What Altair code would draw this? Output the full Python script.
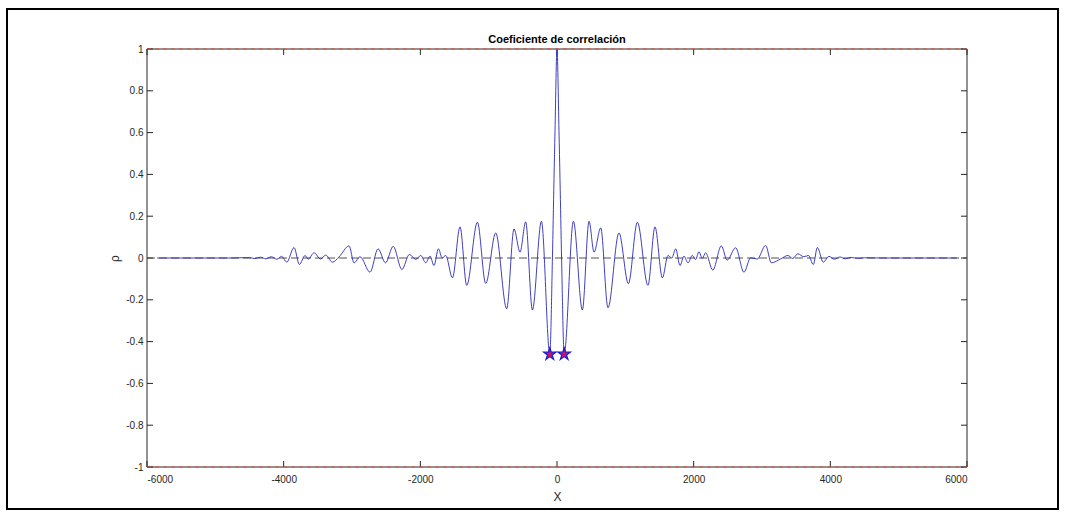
import altair as alt
import pandas as pd

# ---- values ----
curve_x = [-5850, -4800, -4500, -4420, -4340, -4260, -4180, -4100, -4030, -3955, -3848, -3770,
           -3687, -3640, -3555, -3460, -3384, -3286, -3190, -3043, -2970, -2882, -2736, -2619,
           -2510, -2397, -2270, -2160, -2067, -1994, -1921, -1858, -1800, -1735, -1680, -1628,
           -1530, -1419, -1321, -1165, -1043, -897, -736, -629, -541, -458, -360, -228, -105,
           -67, -44, -29, 0,
           29, 44, 67, 105, 240, 371, 469, 542, 640, 746, 907, 1045, 1176, 1331, 1434, 1542,
           1624, 1680, 1737, 1800, 1858, 1917, 1980, 2030, 2077, 2126, 2175, 2280, 2405, 2490,
           2614, 2736, 2834, 2930, 3053, 3137, 3280, 3378, 3451, 3524, 3612, 3680, 3751, 3810,
           3897, 3980, 4060, 4140, 4220, 4300, 4400, 4500, 4800, 5850]
curve_y = [0.0, 0.0, 0.002, -0.003, 0.004, -0.004, 0.006, -0.006, 0.008, -0.02, 0.05, -0.031,
           0.012, -0.005, 0.025, -0.005, 0.014, -0.02, 0.005, 0.058, -0.023, 0.006, -0.068, 0.044,
           -0.023, 0.056, -0.055, 0.017, -0.007, 0.012, -0.023, 0.009, -0.036, 0.044, 0.0, 0.012,
           -0.095, 0.149, -0.131, 0.171, -0.122, 0.120, -0.243, 0.139, 0.028, 0.173, -0.249, 0.176, -0.46,
           0.0, 0.375, 0.61, 1.0,
           0.61, 0.375, 0.0, -0.46, 0.176, -0.249, 0.176, 0.028, 0.144, -0.238, 0.120, -0.123, 0.171, -0.131, 0.149, -0.095,
           0.012, 0.0, 0.044, -0.036, 0.009, -0.023, 0.012, -0.007, 0.03, -0.002, 0.025, -0.058, 0.058, -0.01,
           0.049, -0.068, 0.001, -0.005, 0.06, -0.023, -0.003, 0.012, -0.002, 0.02, 0.006, 0.012, -0.031, 0.05,
           -0.02, 0.008, -0.006, 0.005, -0.004, 0.003, -0.002, 0.001, 0.0, 0.0]

star_x = [-105, 105]
star_y = [-0.46, -0.46]

zero_x = [-6000, 6000]
zero_y = [0, 0]

ref_levels = [1, -1]
ref_ends = [-6000, 6000]

x_ticks = [-6000, -4000, -2000, 0, 2000, 4000, 6000]
y_ticks = [-1, -0.8, -0.6, -0.4, -0.2, 0, 0.2, 0.4, 0.6, 0.8, 1]

title_text = "Coeficiente de correlación"
x_title = "X"
y_title = "ρ"

# ---- tables ----
curve_df = pd.DataFrame({"x": curve_x, "y": curve_y})
star_df = pd.DataFrame({"x": star_x, "y": star_y})
zero_df = pd.DataFrame({"x": zero_x, "y": zero_y})
ref_df = pd.DataFrame([{"x": e, "y": lv, "g": str(lv)} for lv in ref_levels for e in ref_ends])
xt_df = pd.DataFrame({"x": x_ticks})
yt_df = pd.DataFrame({"y": y_ticks})

FONT = "Liberation Sans"
AX = "#262626"
W, H = 820, 418
TICK = 6
STAR = ("M0,-1L0.2245,-0.309L0.951,-0.309L0.3633,0.118L0.5878,0.809L0,0.382"
        "L-0.5878,0.809L-0.3633,0.118L-0.951,-0.309L-0.2245,-0.309Z")

xs = alt.Scale(domain=[-6000, 6000], nice=False, zero=False)
ys = alt.Scale(domain=[-1, 1], nice=False, zero=False)
lab = "'' + datum.value"

ax_x = alt.Axis(orient="bottom", values=x_ticks, labelExpr=lab, ticks=False, domain=False,
                grid=False, labelFont=FONT, labelFontSize=10, labelColor=AX, labelPadding=7,
                title=x_title, titleFont=FONT, titleFontSize=12, titleFontWeight="normal",
                titleColor=AX, titlePadding=7)
ax_y = alt.Axis(orient="left", values=y_ticks, labelExpr=lab, ticks=False, domain=False,
                grid=False, labelFont=FONT, labelFontSize=10, labelColor=AX, labelPadding=4,
                title=y_title, titleFont=FONT, titleFontSize=12, titleFontWeight="normal",
                titleColor=AX, titlePadding=4)

X = alt.X("x:Q", scale=xs, axis=ax_x)
Y = alt.Y("y:Q", scale=ys, axis=ax_y)

box = alt.Chart(pd.DataFrame({"k": [0]})).mark_rect(
    fill="transparent", stroke=AX, strokeWidth=1
).encode(x=alt.value(0), x2=alt.value(W), y=alt.value(0), y2=alt.value(H))

bottom_ticks = alt.Chart(xt_df).mark_rule(color=AX, strokeWidth=1).encode(
    x=X, y=alt.value(H), y2=alt.value(H - TICK))
top_ticks = alt.Chart(xt_df).mark_rule(color=AX, strokeWidth=1).encode(
    x=X, y=alt.value(0), y2=alt.value(TICK))
left_ticks = alt.Chart(yt_df).mark_rule(color=AX, strokeWidth=1).encode(
    y=Y, x=alt.value(0), x2=alt.value(TICK))
right_ticks = alt.Chart(yt_df).mark_rule(color=AX, strokeWidth=1).encode(
    y=Y, x=alt.value(W - TICK), x2=alt.value(W))

zero_layer = alt.Chart(zero_df).mark_line(color="#404040", strokeWidth=0.9, strokeDash=[8, 4]).encode(
    x=X, y=Y)

curve_layer = alt.Chart(curve_df).mark_line(color="#2a2ab8", strokeWidth=0.9, interpolate="monotone").encode(
    x=X, y=Y, order="x:Q")

ref_layer = alt.Chart(ref_df).mark_line(color="#e8503a", strokeWidth=1, strokeDash=[4, 4]).encode(
    x=X, y=Y, detail="g:N")

star_layer = alt.Chart(star_df).mark_point(shape=STAR, filled=True, fill="#d0105a", stroke="#1a1ad8",
                                           strokeWidth=1.2, opacity=1, size=170).encode(x=X, y=Y)

frame_layer = alt.Chart(pd.DataFrame({"k": [0]})).mark_rect(
    fill="transparent", stroke="black", strokeWidth=2
).encode(x=alt.value(-140), x2=alt.value(911), y=alt.value(-40), y2=alt.value(460))

chart = alt.layer(
    box, bottom_ticks, top_ticks, left_ticks, right_ticks,
    zero_layer, curve_layer, ref_layer, star_layer, frame_layer
).properties(
    width=W, height=H,
    title=alt.TitleParams(title_text, font=FONT, fontSize=11, fontWeight="bold", color="black",
                          anchor="middle", offset=-37),
    autosize=alt.AutoSizeParams(type="none"),
    padding={"left": 147, "top": 49, "right": 99, "bottom": 53},
    background="white",
).configure_view(stroke="transparent")

chart.save("out.html", embed_options={"renderer": "svg", "actions": False})
